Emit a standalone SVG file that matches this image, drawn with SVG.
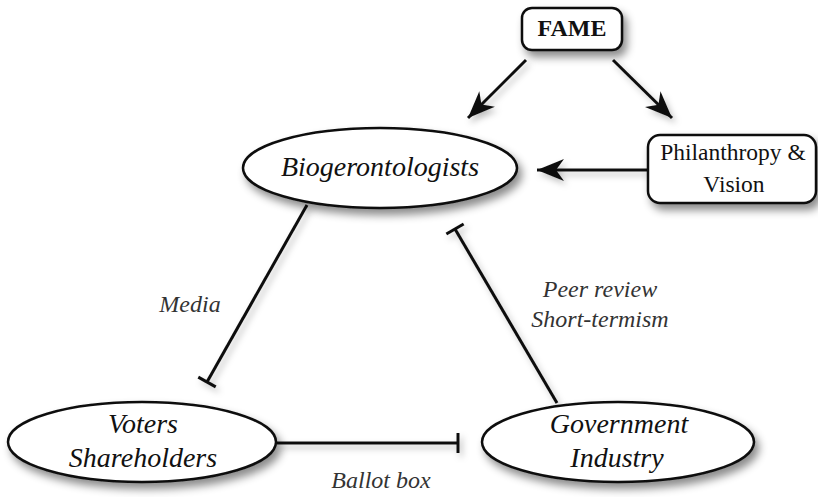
<svg xmlns="http://www.w3.org/2000/svg" width="818" height="497" viewBox="0 0 818 497">
  <defs>
    <filter id="sh" x="-20%" y="-30%" width="150%" height="180%">
      <feDropShadow dx="4" dy="6" stdDeviation="4" flood-color="#000" flood-opacity="0.45"/>
    </filter>
    <filter id="lsh" x="-20%" y="-20%" width="150%" height="150%">
      <feDropShadow dx="3" dy="4" stdDeviation="3" flood-color="#000" flood-opacity="0.25"/>
    </filter>
    <marker id="arrow" markerUnits="userSpaceOnUse" markerWidth="30" markerHeight="26" viewBox="-28 -13 30 26" refX="0" refY="0" orient="auto">
      <path d="M0,0 L-27,-11 L-19,0 L-27,11 Z" fill="#111"/>
    </marker>
    <marker id="tee" markerUnits="userSpaceOnUse" markerWidth="6" markerHeight="24" viewBox="-3 -12 6 24" refX="0" refY="0" orient="auto">
      <path d="M0,-10 L0,10" stroke="#111" stroke-width="3"/>
    </marker>
  </defs>
  <style>
    .box { fill: #fff; stroke: #111; stroke-width: 2.5; }
    .ell { fill: #fff; stroke: #111; stroke-width: 2.5; }
    .edge { stroke: #111; stroke-width: 3; fill: none; }
    .node { font-family: "Liberation Serif", "Times New Roman", serif; fill: #111; text-anchor: middle; }
    .it { font-style: italic; font-size: 28px; }
    .lbl { font-family: "Liberation Serif", "Times New Roman", serif; font-style: italic; font-size: 24px; fill: #333; text-anchor: middle; }
  </style>
  <rect width="818" height="497" fill="#fff"/>

  <g id="connectors" filter="url(#lsh)">
    <line class="edge" x1="526" y1="60" x2="468" y2="118" marker-end="url(#arrow)"/>
    <line class="edge" x1="613" y1="60" x2="672" y2="118" marker-end="url(#arrow)"/>
    <line class="edge" x1="648" y1="170" x2="537" y2="170" marker-end="url(#arrow)"/>
    <line class="edge" x1="307" y1="205" x2="207" y2="382" marker-end="url(#tee)"/>
    <line class="edge" x1="277" y1="443" x2="458" y2="443" marker-end="url(#tee)"/>
    <line class="edge" x1="557" y1="403" x2="455" y2="229" marker-end="url(#tee)"/>
  </g>

  <g id="labels">
    <text class="lbl" x="190" y="312">Media</text>
    <text class="lbl" x="600" y="297">Peer review</text>
    <text class="lbl" x="600" y="327">Short-termism</text>
    <text class="lbl" x="381" y="488">Ballot box</text>
  </g>

  <g id="fame">
    <rect class="box" x="522" y="8" width="100" height="42" rx="10" filter="url(#sh)"/>
    <text class="node" x="572" y="36" font-size="24" font-weight="bold">FAME</text>
  </g>

  <g id="philanthropy">
    <rect class="box" x="648" y="135" width="168" height="68" rx="12" filter="url(#sh)"/>
    <text class="node" x="733" y="160" font-size="23.5">Philanthropy &amp;</text>
    <text class="node" x="734" y="192" font-size="23.5">Vision</text>
  </g>

  <g id="biogerontologists">
    <ellipse class="ell" cx="380" cy="168" rx="137" ry="40" filter="url(#sh)"/>
    <text class="node it" x="380" y="176">Biogerontologists</text>
  </g>

  <g id="voters">
    <ellipse class="ell" cx="142" cy="442" rx="134" ry="40" filter="url(#sh)"/>
    <text class="node it" x="143" y="433" font-size="27">Voters</text>
    <text class="node it" x="143" y="467" font-size="27">Shareholders</text>
  </g>

  <g id="government">
    <ellipse class="ell" cx="618" cy="442" rx="136" ry="40" filter="url(#sh)"/>
    <text class="node it" x="619" y="433">Government</text>
    <text class="node it" x="617" y="467">Industry</text>
  </g>
</svg>
